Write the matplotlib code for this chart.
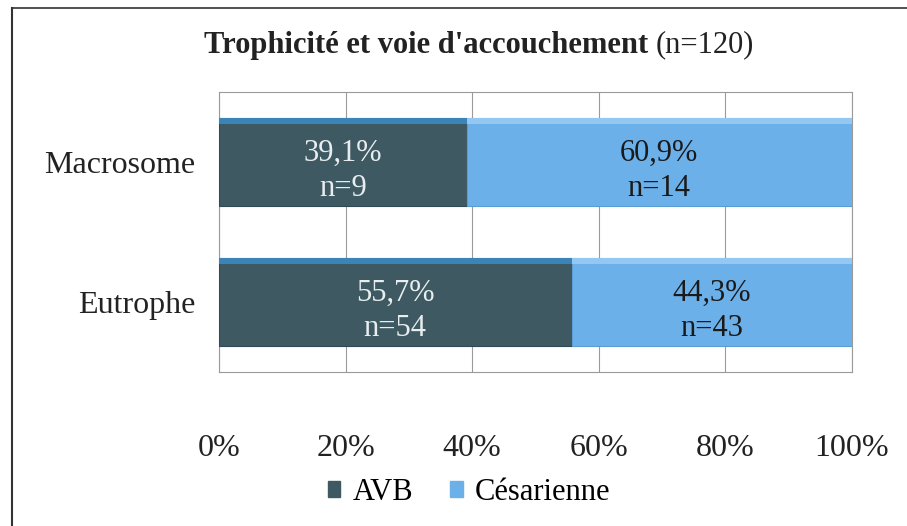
import matplotlib.pyplot as plt
import matplotlib.patches as mpatches
from matplotlib.lines import Line2D

plt.rcParams['font.family'] = ['Liberation Serif', 'DejaVu Serif']

categories = ['Eutrophe', 'Macrosome']
avb_pct = [55.7, 39.1]
ces_pct = [44.3, 60.9]
avb_n = [54, 9]
ces_n = [43, 14]
ticks = [0, 20, 40, 60, 80, 100]

c_avb = '#3e5961'
c_ces = '#6cb0ea'

fig = plt.figure(figsize=(9.07, 5.26), dpi=100)
ax = fig.add_axes([219/907, 1 - 372/526, (852-219)/907, (372-92)/526])

y = range(len(categories))
h = 0.63
ax.barh(y, avb_pct, height=h, color=c_avb, edgecolor='#2f4a55', linewidth=0.8, zorder=3, label='AVB')
ax.barh(y, ces_pct, left=avb_pct, height=h, color=c_ces, edgecolor='#5a9cd4', linewidth=0.8, zorder=3, label='Césarienne')
# bevel highlight along the top of each bar
for i in y:
    ax.barh(i + h/2 - 0.02, avb_pct[i], height=0.04, color='#3b84b8', zorder=4, linewidth=0)
    ax.barh(i + h/2 - 0.02, ces_pct[i], left=avb_pct[i], height=0.04, color='#94c8f2', zorder=4, linewidth=0)

fs = 22
for i in y:
    ax.text(avb_pct[i]/2, i + 0.06, f'{avb_pct[i]:.1f}%'.replace('.', ','), ha='center', va='center',
            color='#e8eef0', fontsize=fs, zorder=5)
    ax.text(avb_pct[i]/2, i - 0.19, f'n={avb_n[i]}', ha='center', va='center',
            color='#e8eef0', fontsize=fs, zorder=5)
    xc = avb_pct[i] + ces_pct[i]/2
    ax.text(xc, i + 0.06, f'{ces_pct[i]:.1f}%'.replace('.', ','), ha='center', va='center',
            color='#1a1a1a', fontsize=fs, zorder=5)
    ax.text(xc, i - 0.19, f'n={ces_n[i]}', ha='center', va='center',
            color='#1a1a1a', fontsize=fs, zorder=5)

ax.set_xlim(0, 100)
ax.set_ylim(-0.5, 1.5)
ax.set_xticks(ticks)
ax.set_xticklabels([f'{t}%' for t in ticks], fontsize=23)
ax.set_yticks(list(y))
ax.set_yticklabels(categories, fontsize=23)
ax.tick_params(axis='x', length=0, pad=45, colors='#222222')
ax.tick_params(axis='y', length=0, pad=17, colors='#222222')
ax.grid(axis='x', color='#9a9a9a', linewidth=0.8, zorder=0)
for s in ax.spines.values():
    s.set_color('#9a9a9a')
    s.set_linewidth(0.8)

ty = 1 - 45/526
t1 = fig.text(0.5, ty, "Trophicité et voie d'accouchement ", fontsize=22, fontweight='bold',
              ha='right', va='center', color='#222222')
t2 = fig.text(0.5, ty, "(n=120)", fontsize=22, ha='left', va='center', color='#222222')
fig.canvas.draw()
r = fig.canvas.get_renderer()
w1 = t1.get_window_extent(r).width
w2 = t2.get_window_extent(r).width
shift = (w1 - w2) / 2 / fig.bbox.width
t1.set_x(479/907 + shift)
t2.set_x(479/907 + shift)

fig.legend(handles=[mpatches.Patch(color=c_avb, label='AVB'), mpatches.Patch(color=c_ces, label='Césarienne')],
           loc='center', bbox_to_anchor=(469/907, 1 - 492/526), ncol=2, frameon=False, fontsize=22,
           handlelength=0.42, handleheight=0.42, handletextpad=0.4, columnspacing=1.2)

fig.lines.append(Line2D([12/907, 12/907], [0, 1 - 8/526], transform=fig.transFigure, color='#333333', linewidth=1.5))
fig.lines.append(Line2D([12/907, 1], [1 - 8/526, 1 - 8/526], transform=fig.transFigure, color='#333333', linewidth=1.2))

fig.savefig('out.png', dpi=100, facecolor='white')
